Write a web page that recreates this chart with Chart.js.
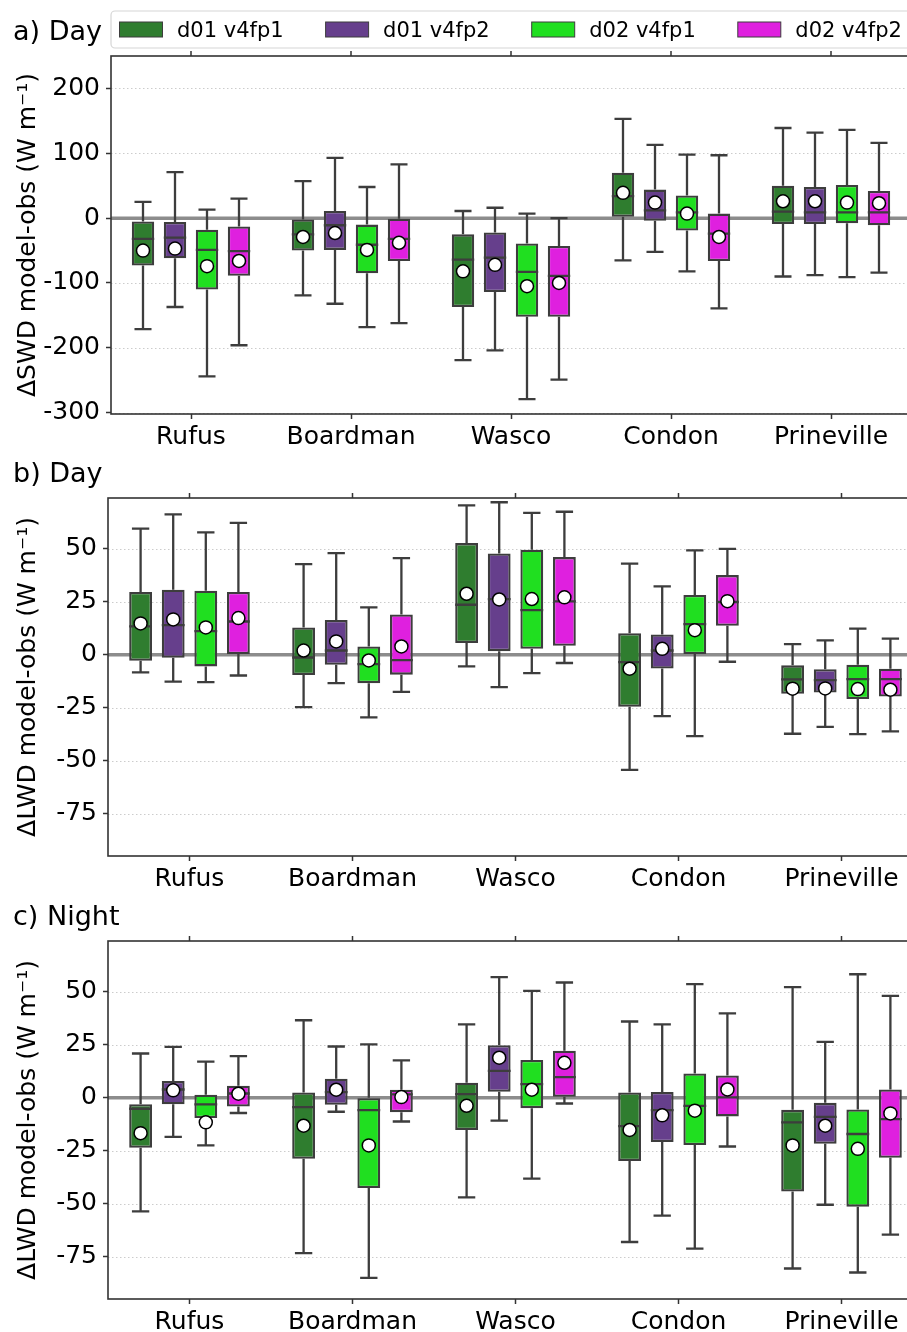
<!DOCTYPE html>
<html>
<head>
<meta charset="utf-8">
<script src="https://cdn.jsdelivr.net/npm/chart.js@4.4.1/dist/chart.umd.min.js"></script>
<style>
  html, body { margin: 0; padding: 0; background: #fff; overflow: hidden; width: 907px; height: 1332px; }
  canvas { position: absolute; left: 0; }
</style>
</head>
<body>
<canvas id="swdDay" width="911" height="450" style="top:0px"></canvas>
<canvas id="lwdDay" width="923" height="442" style="top:450px"></canvas>
<canvas id="lwdNight" width="923" height="440" style="top:892px"></canvas>
<script>
const stations = ['Rufus', 'Boardman', 'Wasco', 'Condon', 'Prineville'];
const runs = ['d01 v4fp1', 'd01 v4fp2', 'd02 v4fp1', 'd02 v4fp2'];
const runColors = ['#2f7d2f', '#663f8c', '#20df20', '#df20df'];
const edgeColor = '#3d3d3d';

const swdTicks = [-300, -200, -100, 0, 100, 200];
const lwdTicks = [-75, -50, -25, 0, 25, 50];

// one row per station: [whisker low, q1, median, q3, whisker high, mean]
const swdDayD01fp1 = [[-171, -73, -32, -5, 25, -50], [-119, -50, -25, -2, 57, -29], [-219, -137, -64, -25, 11, -82], [-65, 2, 34, 70, 153, 39], [-90, -9, 10, 50, 139, 26]];
const swdDayD01fp2 = [[-137, -62, -30, -6, 71, -47], [-132, -49, -11, 11, 93, -23], [-204, -114, -61, -22, 16, -72], [-52, -4, 12, 44, 113, 24], [-88, -9, 9, 48, 132, 26]];
const swdDayD02fp1 = [[-244, -110, -49, -18, 13, -74], [-168, -85, -41, -10, 48, -49], [-279, -152, -83, -39, 7, -105], [-82, -19, 9, 35, 98, 7], [-91, -8, 9, 51, 136, 24]];
const swdDayD02fp2 = [[-196, -89, -51, -13, 30, -66], [-162, -66, -32, -1, 83, -38], [-249, -152, -89, -43, 0, -100], [-139, -66, -24, 7, 97, -29], [-84, -11, 9, 42, 116, 23]];

const lwdDayD01fp1 = [[-8.3, -2.8, 13.4, 29.6, 59.5, 14.8], [-24.7, -9.6, -1.3, 12.9, 42.8, 2.0], [-5.5, 5.5, 23.6, 52.7, 70.5, 28.8], [-54.3, -24.6, -3.5, 10.2, 43, -6.6], [-37.3, -18.4, -11.6, -5, 5, -16]];
const lwdDayD01fp2 = [[-12.7, -1.4, 14, 30.7, 66.3, 16.7], [-13.4, -4.7, 2.0, 16.4, 48, 6.3], [-15.3, 1.7, 26.3, 47.8, 72, 26.1], [-29, -6.5, 2.0, 9.6, 32.3, 2.8], [-34, -17.8, -12, -6.8, 6.8, -15.9]];
const lwdDayD02fp1 = [[-12.9, -5.5, 11.2, 30.2, 57.8, 12.9], [-29.6, -13.4, -4.4, 3.9, 22.4, -2.7], [-8.7, 2.8, 21.1, 49.6, 67, 26.3], [-38.4, 0.3, 14.5, 28.2, 49.3, 11.6], [-37.5, -20.9, -11.5, -4.7, 12.3, -16.2]];
const lwdDayD02fp2 = [[-9.8, 0.3, 15.7, 29.6, 62.3, 17.3], [-17.5, -9.4, -2.5, 19, 45.6, 3.9], [-3.9, 4.2, 25.2, 46.1, 67.5, 27.1], [-3.3, 13.7, 24.9, 37.6, 50, 25.3], [-36.2, -19.7, -11.5, -6.6, 7.6, -16.5]];

const lwdNightD01fp1 = [[-53.6, -23.6, -5.2, -3.1, 20.9, -16.7], [-73.3, -28.8, -4.4, 2.5, 36.6, -13.2], [-47, -15.2, 1.7, 7.1, 34.6, -3.8], [-68.1, -29.9, -13.4, 2.5, 36, -15.2], [-80.6, -44.3, -11.6, -5.7, 52.2, -22.5]];
const lwdNightD01fp2 = [[-18.5, -3.1, 3.9, 7.9, 24, 3.5], [-6.6, -3.3, 2.7, 9.0, 24.2, 3.8], [-10.8, 2.8, 12.7, 24.8, 56.9, 18.9], [-55.6, -20.9, -5.8, 2.7, 34.6, -8.3], [-50.5, -21.7, -9, -2.4, 26.4, -13.2]];
const lwdNightD02fp1 = [[-22.5, -9.6, -3.1, 1.4, 17.1, -11.6], [-85, -42.6, -5.8, 0, 25.2, -22.5], [-38.2, -4.9, 6.4, 17.8, 50.5, 3.8], [-71.2, -22.3, -3.8, 11.5, 53.6, -6.1], [-82.5, -51.4, -17.1, -5.5, 58.3, -24.1]];
const lwdNightD02fp2 = [[-7.2, -4.1, 2.0, 5.7, 19.7, 1.9], [-11.2, -6.8, 1.6, 3.8, 17.6, 0.3], [-2.7, 0.5, 9.7, 22.2, 54.4, 16.5], [-23, -8.8, 0.2, 10.5, 39.8, 3.9], [-64.6, -28.3, -10.1, 3.9, 48.1, -7.4]];

Chart.defaults.font.family = '"DejaVu Sans", sans-serif';
Chart.defaults.color = '#000';

// whiskers, medians, means, zero line, dotted grid, frame, panel title and legend
const boxParts = {
    id: 'boxParts',
    beforeDatasetsDraw(chart) {
        const { ctx, chartArea: a, scales: { y } } = chart;
        ctx.save();
        ctx.strokeStyle = '#cccccc';
        ctx.lineWidth = 1;
        ctx.setLineDash([1.5, 2.5]);
        y.ticks.forEach(t => {
            if (t.value === 0) return;
            const py = Math.round(y.getPixelForValue(t.value)) + 0.5;
            ctx.beginPath();
            ctx.moveTo(a.left, py);
            ctx.lineTo(a.right, py);
            ctx.stroke();
        });
        ctx.setLineDash([]);
        ctx.strokeStyle = 'rgba(128,128,128,0.9)';
        ctx.lineWidth = 3.5;
        const z = y.getPixelForValue(0);
        ctx.beginPath();
        ctx.moveTo(a.left, z);
        ctx.lineTo(a.right, z);
        ctx.stroke();
        ctx.restore();
    },
    afterDatasetsDraw(chart) {
        const { ctx, scales: { y } } = chart;
        ctx.save();
        chart.data.datasets.forEach((ds, i) => {
            chart.getDatasetMeta(i).data.forEach((bar, j) => {
                const [lo, q1, med, q3, hi, mean] = ds.stats[j];
                const x = bar.x, w = bar.width, cap = w * 0.38;
                const pLo = y.getPixelForValue(lo), pQ1 = y.getPixelForValue(q1);
                const pQ3 = y.getPixelForValue(q3), pHi = y.getPixelForValue(hi);
                const pMed = y.getPixelForValue(med);
                ctx.strokeStyle = edgeColor;
                ctx.lineWidth = 2.3;
                ctx.beginPath();
                ctx.moveTo(x, pQ3); ctx.lineTo(x, pHi);
                ctx.moveTo(x - cap, pHi); ctx.lineTo(x + cap, pHi);
                ctx.moveTo(x, pQ1); ctx.lineTo(x, pLo);
                ctx.moveTo(x - cap, pLo); ctx.lineTo(x + cap, pLo);
                ctx.moveTo(x - w / 2, pMed); ctx.lineTo(x + w / 2, pMed);
                ctx.stroke();
                ctx.beginPath();
                ctx.arc(x, y.getPixelForValue(mean), 6.5, 0, Math.PI * 2);
                ctx.fillStyle = '#fff';
                ctx.fill();
                ctx.lineWidth = 1.5;
                ctx.strokeStyle = '#000';
                ctx.stroke();
            });
        });
        ctx.restore();
    },
    afterDraw(chart, args, opts) {
        const { ctx, chartArea: a, scales: { x } } = chart;
        ctx.save();
        ctx.strokeStyle = '#333';
        ctx.lineWidth = 1.6;
        ctx.strokeRect(a.left, a.top, a.right - a.left, a.bottom - a.top);
        ctx.lineWidth = 1.5;
        ctx.beginPath();
        x.ticks.forEach((t, k) => {
            const px = x.getPixelForTick(k);
            ctx.moveTo(px, a.top);
            ctx.lineTo(px, a.top - 5);
        });
        ctx.stroke();

        ctx.fillStyle = '#000';
        ctx.font = '27px "DejaVu Sans"';
        ctx.textBaseline = 'alphabetic';
        ctx.textAlign = 'left';
        ctx.fillText(opts.title, 13, a.top - 16);

        if (opts.legend) {
            const top = a.top - 45, h = 37, left = 111;
            ctx.beginPath();
            ctx.roundRect(left, top, chart.width - left + 10, h, 4);
            ctx.fillStyle = '#fff';
            ctx.fill();
            ctx.strokeStyle = '#d6d6d6';
            ctx.lineWidth = 1.2;
            ctx.stroke();
            ctx.font = '21px "DejaVu Sans"';
            let px = left + 8.5;
            chart.data.datasets.forEach(ds => {
                ctx.fillStyle = ds.backgroundColor;
                ctx.fillRect(px, a.top - 34, 43, 15);
                ctx.strokeStyle = edgeColor;
                ctx.lineWidth = 1;
                ctx.strokeRect(px, a.top - 34, 43, 15);
                ctx.fillStyle = '#000';
                const tx = px + 43 + 14.5;
                ctx.fillText(ds.label, tx, a.top - 19);
                px = tx + ctx.measureText(ds.label).width + 42;
            });
        }
        ctx.restore();
    }
};

function drawPanel(id, series, yMin, yMax, yTicks, yTitle, title, legend, padTop, axisWidth, axisHeight) {
    new Chart(document.getElementById(id), {
        type: 'bar',
        data: {
            labels: stations,
            datasets: series.map((s, i) => ({
                label: runs[i],
                data: s.map(r => [r[1], r[3]]),
                stats: s,
                backgroundColor: runColors[i],
                borderColor: edgeColor,
                borderWidth: 2.3,
                borderSkipped: false,
                inflateAmount: 0
            }))
        },
        plugins: [boxParts],
        options: {
            responsive: false,
            animation: false,
            events: [],
            layout: { padding: { top: padTop, left: 0, right: 0, bottom: 0 } },
            datasets: { bar: { categoryPercentage: 0.8, barPercentage: 0.7 } },
            plugins: {
                legend: { display: false },
                tooltip: { enabled: false },
                boxParts: { title: title, legend: legend }
            },
            scales: {
                x: {
                    grid: { drawOnChartArea: false, offset: false, tickLength: 5, tickColor: '#333', tickWidth: 1.5 },
                    border: { display: false },
                    ticks: { font: { size: 25 }, color: '#000', padding: 3, maxRotation: 0, autoSkip: false },
                    afterFit: ax => { ax.height = axisHeight; }
                },
                y: {
                    min: yMin,
                    max: yMax,
                    afterBuildTicks: ax => { ax.ticks = yTicks.map(v => ({ value: v })); },
                    afterFit: ax => { ax.width = axisWidth; },
                    grid: { drawOnChartArea: false, tickLength: 5, tickColor: '#333', tickWidth: 1.5 },
                    border: { display: false },
                    ticks: { font: { size: 25 }, color: '#000', padding: 6 },
                    title: { display: true, text: yTitle, font: { size: 25 }, color: '#000', padding: { top: 13, bottom: 0 } }
                }
            }
        }
    });
}

drawPanel('swdDay', [swdDayD01fp1, swdDayD01fp2, swdDayD02fp1, swdDayD02fp2], -302, 250, swdTicks,
    'ΔSWD model-obs (W m⁻¹)', 'a) Day', true, 56, 111, 36);
drawPanel('lwdDay', [lwdDayD01fp1, lwdDayD01fp2, lwdDayD02fp1, lwdDayD02fp2], -95, 74, lwdTicks,
    'ΔLWD model-obs (W m⁻¹)', 'b) Day', false, 48, 108, 36);
drawPanel('lwdNight', [lwdNightD01fp1, lwdNightD01fp2, lwdNightD02fp1, lwdNightD02fp2], -95, 74, lwdTicks,
    'ΔLWD model-obs (W m⁻¹)', 'c) Night', false, 49, 108, 33);
</script>
</body>
</html>
